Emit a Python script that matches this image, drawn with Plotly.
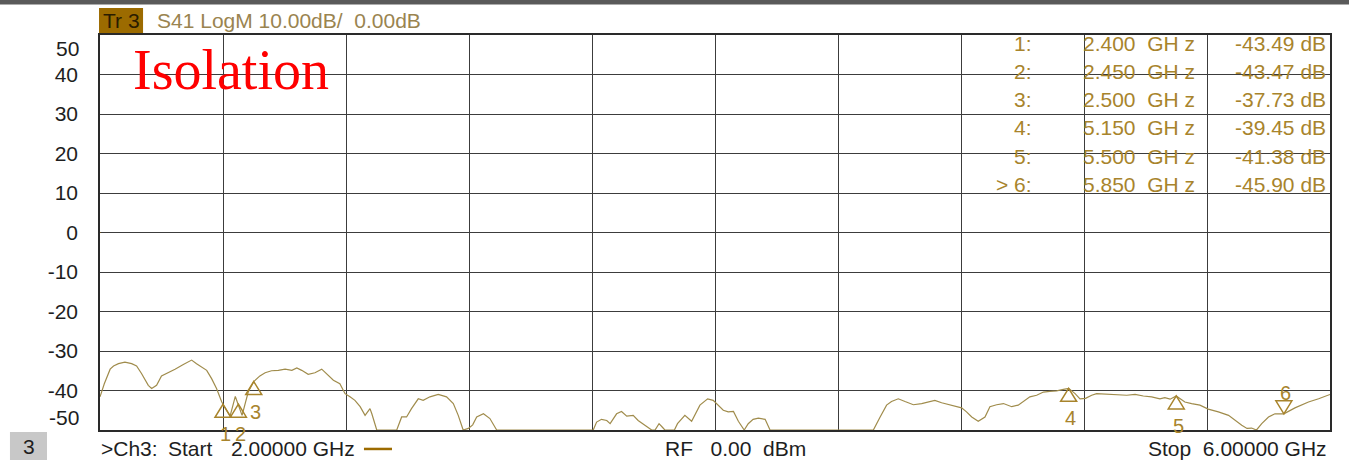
import plotly.graph_objects as go

# ---------------- data ----------------
freq_ghz = [
    2.000, 2.014, 2.033, 2.044, 2.060, 2.081, 2.103, 2.119, 2.135, 2.157,
    2.168, 2.184, 2.200, 2.217, 2.244, 2.271, 2.298, 2.314, 2.331, 2.347,
    2.363, 2.379, 2.396, 2.400, 2.423, 2.440, 2.450, 2.462, 2.482, 2.500,
    2.520, 2.537, 2.558, 2.580, 2.602, 2.624, 2.640, 2.656, 2.677, 2.699,
    2.721, 2.737, 2.759, 2.780, 2.797, 2.813, 2.829, 2.846, 2.862, 2.878,
    2.884, 2.900, 2.965, 2.981, 2.997, 3.013, 3.035, 3.051, 3.073, 3.100,
    3.127, 3.149, 3.165, 3.181, 3.198, 3.212, 3.225, 3.247, 3.268, 3.290,
    3.604, 3.615, 3.631, 3.648, 3.659, 3.680, 3.696, 3.713, 3.734, 3.750,
    3.772, 3.794, 3.805, 3.818, 3.829, 3.837, 3.868, 3.878, 3.902, 3.924,
    3.951, 3.976, 3.994, 4.011, 4.027, 4.043, 4.060, 4.076, 4.095, 4.108,
    4.124, 4.141, 4.163, 4.179, 4.515, 4.537, 4.558, 4.574, 4.596, 4.618,
    4.645, 4.672, 4.694, 4.715, 4.737, 4.759, 4.780, 4.802, 4.818, 4.835,
    4.856, 4.878, 4.894, 4.916, 4.938, 4.965, 4.986, 5.008, 5.024, 5.046,
    5.068, 5.089, 5.111, 5.133, 5.150, 5.171, 5.187, 5.205, 5.225, 5.241,
    5.279, 5.312, 5.339, 5.366, 5.393, 5.420, 5.447, 5.463, 5.480, 5.500,
    5.528, 5.550, 5.577, 5.604, 5.637, 5.670, 5.691, 5.713, 5.730, 5.745,
    5.761, 5.778, 5.800, 5.821, 5.850, 5.886, 5.930, 5.963, 6.000,
]
s41_db = [
    -41.6, -38.3, -34.6, -33.8, -33.2, -32.8, -33.2, -33.8, -35.7, -38.7,
    -39.5, -38.7, -36.3, -35.7, -34.6, -33.4, -32.3, -33.2, -34.0, -34.9,
    -37.0, -39.5, -42.9, -43.49, -46.5, -41.5, -43.47, -46.3, -40.4, -37.73,
    -36.3, -35.5, -35.0, -34.9, -34.6, -34.9, -34.3, -34.9, -35.9, -35.5,
    -34.6, -35.7, -37.4, -38.3, -40.8, -41.6, -42.5, -44.1, -46.3, -44.6,
    -45.9, -50.0, -50.0, -46.7, -46.7, -44.6, -42.1, -42.5, -41.6, -41.0,
    -41.6, -43.3, -46.3, -50.0, -49.6, -48.7, -46.7, -45.9, -47.1, -50.0,
    -50.0, -48.0, -47.3, -47.6, -48.4, -45.9, -45.3, -46.5, -46.3, -47.6,
    -48.8, -50.0, -50.0, -48.4, -49.3, -50.0, -50.0, -48.4, -46.3, -47.8,
    -43.7, -42.1, -42.5, -43.7, -45.0, -45.4, -45.3, -47.8, -50.0, -48.4,
    -47.3, -47.0, -47.3, -50.0, -50.0, -46.7, -43.7, -42.8, -42.1, -42.8,
    -43.6, -43.3, -42.9, -42.5, -43.1, -43.6, -43.9, -44.4, -45.4, -46.7,
    -47.8, -46.7, -44.1, -43.6, -43.3, -44.1, -43.7, -42.5, -41.6, -41.2,
    -40.4, -40.2, -40.1, -39.7, -39.45, -40.8, -42.1, -42.0, -41.2, -40.8,
    -41.0, -41.2, -41.2, -41.0, -41.4, -41.6, -42.1, -41.8, -42.2, -41.38,
    -42.9, -43.3, -43.7, -44.7, -45.4, -46.3, -47.6, -48.8, -49.6, -49.5,
    -50.0, -48.4, -46.7, -45.9, -45.90, -44.4, -42.9, -42.1, -41.0,
]

marker_ids = [1, 2, 3, 4, 5, 6]
marker_freq_ghz = [2.400, 2.450, 2.500, 5.150, 5.500, 5.850]
marker_db = [-43.49, -43.47, -37.73, -39.45, -41.38, -45.90]
active_marker = 6

y_tick_vals = [-40, -30, -20, -10, 0, 10, 20, 30, 40]
y_edge_vals = [50, -50]
x_grid_vals = [2.4, 2.8, 3.2, 3.6, 4.0, 4.4, 4.8, 5.2, 5.6]

start_ghz, stop_ghz = 2.0, 6.0
ref_level_db = 0.0
scale_db = 10.0
rf_power_dbm = 0.0

# ---------------- style ----------------
GOLD = "#A8842C"
TRACE = "#A08C4C"
DARK = "#1e1e1e"
GRID = "#3c3c3c"
NB = "\u00a0"
FONT = "Liberation Sans, Arial, sans-serif"

fig = go.Figure()
fig.add_trace(go.Scatter(
    x=freq_ghz, y=s41_db, mode="lines",
    line=dict(color=TRACE, width=1.2), hoverinfo="skip",
))

shapes = []
annotations = []

# marker triangles + labels
for mid, f, v in zip(marker_ids, marker_freq_ghz, marker_db):
    if mid == active_marker:
        path = "M0,0 L8,13 L-8,13 Z"
        lab_shift = 21
    else:
        path = "M0,0 L8,-13 L-8,-13 Z"
        lab_shift = -30
    shapes.append(dict(type="path", xref="x", yref="y", xsizemode="pixel",
                       ysizemode="pixel", xanchor=f, yanchor=v, path=path,
                       line=dict(color=GOLD, width=1.5), layer="above"))
    annotations.append(dict(x=f, y=v, xref="x", yref="y", text=str(mid),
                            showarrow=False, yshift=lab_shift, xshift=2,
                            font=dict(size=20, color=GOLD, family=FONT)))

# marker table
row0 = 0.9797
row_step = 0.0716
for i, (mid, f, v) in enumerate(zip(marker_ids, marker_freq_ghz, marker_db)):
    yy = row0 - i * row_step
    lab = (">" + NB if mid == active_marker else "") + f"{mid}:"
    annotations.append(dict(x=0.759, y=yy, xref="paper", yref="paper", text=lab,
                            xanchor="right", yanchor="middle", showarrow=False,
                            font=dict(size=21, color=GOLD, family=FONT)))
    annotations.append(dict(x=0.7975, y=yy, xref="paper", yref="paper",
                            text=f"{f:.3f}{NB} GH z", xanchor="left", yanchor="middle",
                            showarrow=False, font=dict(size=21, color=GOLD, family=FONT)))
    annotations.append(dict(x=0.998, y=yy, xref="paper", yref="paper",
                            text=f"{v:.2f} dB", xanchor="right", yanchor="middle",
                            showarrow=False, font=dict(size=21, color=GOLD, family=FONT)))

# edge y labels (50, -50) drawn inward like the analyzer does
for v in y_edge_vals:
    annotations.append(dict(x=0, y=v, xref="paper", yref="y", text=f"{v:d}",
                            xanchor="right", yanchor="middle", showarrow=False,
                            xshift=-19, yshift=-13 if v > 0 else 13,
                            font=dict(size=21, color=DARK, family=FONT)))

# reference-level arrows at 0 dB
shapes.append(dict(type="path", xref="x", yref="y", xsizemode="pixel", ysizemode="pixel",
                   xanchor=start_ghz, yanchor=ref_level_db,
                   path="M-12,3 L-3,3 L0,0 L-3,-3 L-12,-3 Z",
                   fillcolor="#9C6B00", line=dict(color="#9C6B00", width=1)))
shapes.append(dict(type="path", xref="x", yref="y", xsizemode="pixel", ysizemode="pixel",
                   xanchor=stop_ghz, yanchor=ref_level_db,
                   path="M10,3 L3,3 L0,0 L3,-3 L10,-3 Z",
                   fillcolor="#9C6B00", line=dict(color="#9C6B00", width=1)))

# top window bar
shapes.append(dict(type="rect", xref="paper", yref="paper", x0=-0.09, x1=1.02,
                   y0=1.0775, y1=1.09, fillcolor="#5a5a5a", line=dict(width=0)))
# Tr 3 box
shapes.append(dict(type="rect", xref="paper", yref="paper", x0=-0.0008, x1=0.035,
                   y0=1.0051, y1=1.0684, fillcolor="#9C6B00", line=dict(width=0)))
annotations.append(dict(x=0.0171, y=1.037, xref="paper", yref="paper", text="Tr 3",
                        showarrow=False, xanchor="center", yanchor="middle",
                        font=dict(size=21, color="#2a1c00", family=FONT)))
annotations.append(dict(x=0.0450, y=1.037, xref="paper", yref="paper",
                        text=f"S41 LogM {scale_db:.2f}dB/{NB} {ref_level_db:.2f}dB",
                        showarrow=False, xanchor="left", yanchor="middle",
                        font=dict(size=21, color="#9A8450", family=FONT)))

# Isolation title
annotations.append(dict(x=0.025, y=0.912, xref="paper", yref="paper", text="Isolation",
                        showarrow=False, xanchor="left", yanchor="middle",
                        font=dict(size=56, color="#FF0000",
                                  family="Liberation Serif, Times New Roman, serif")))

# bottom status line
shapes.append(dict(type="rect", xref="paper", yref="paper", x0=-0.0732, x1=-0.0431,
                   y0=-0.0759, y1=-0.0051, fillcolor="#C8C8C8", line=dict(width=0)))
annotations.append(dict(x=-0.0581, y=-0.041, xref="paper", yref="paper", text="3",
                        showarrow=False, xanchor="center", yanchor="middle",
                        font=dict(size=21, color=DARK, family=FONT)))
annotations.append(dict(x=-0.001, y=-0.048, xref="paper", yref="paper",
                        text=">Ch3:", showarrow=False, xanchor="left", yanchor="middle",
                        font=dict(size=21, color=DARK, family=FONT)))
annotations.append(dict(x=0.0535, y=-0.048, xref="paper", yref="paper",
                        text="Start", showarrow=False, xanchor="left", yanchor="middle",
                        font=dict(size=21, color=DARK, family=FONT)))
annotations.append(dict(x=0.1045, y=-0.048, xref="paper", yref="paper",
                        text=f"{start_ghz:.5f} GHz", showarrow=False, xanchor="left",
                        yanchor="middle", font=dict(size=21, color=DARK, family=FONT)))
shapes.append(dict(type="line", xref="paper", yref="paper", x0=0.2146, x1=0.2374,
                   y0=-0.048, y1=-0.048, line=dict(color="#9C6B00", width=2.5)))
annotations.append(dict(x=0.5165, y=-0.048, xref="paper", yref="paper",
                        text=f"RF{NB}{NB} {rf_power_dbm:.2f}{NB} dBm",
                        showarrow=False, xanchor="center", yanchor="middle",
                        font=dict(size=21, color=DARK, family=FONT)))
annotations.append(dict(x=0.9995, y=-0.048, xref="paper", yref="paper",
                        text=f"Stop{NB} {stop_ghz:.5f} GHz",
                        showarrow=False, xanchor="right", yanchor="middle",
                        font=dict(size=21, color=DARK, family=FONT)))

fig.update_layout(
    width=1349, height=463,
    margin=dict(l=100, r=19, t=35, b=33),
    plot_bgcolor="white", paper_bgcolor="white",
    showlegend=False,
    font=dict(family=FONT),
    shapes=shapes, annotations=annotations,
    xaxis=dict(range=[start_ghz, stop_ghz], tickvals=x_grid_vals, showticklabels=False,
               showgrid=True, gridcolor=GRID, gridwidth=1, zeroline=False,
               showline=True, mirror=True, linecolor="#2a2a2a", linewidth=1.5, ticks=""),
    yaxis=dict(range=[-50, 50], tickvals=y_tick_vals, ticktext=[str(v) for v in y_tick_vals],
               showgrid=True, gridcolor=GRID, gridwidth=1, zeroline=False,
               showline=True, mirror=True, linecolor="#2a2a2a", linewidth=1.5,
               ticks="outside", ticklen=16, tickcolor="rgba(0,0,0,0)",
               tickfont=dict(size=21, color=DARK, family=FONT)),
)

fig.write_html(
    "out.html",
    config={"displayModeBar": False},
    post_script="document.body.style.margin='0px';document.body.style.overflow='hidden';",
)
